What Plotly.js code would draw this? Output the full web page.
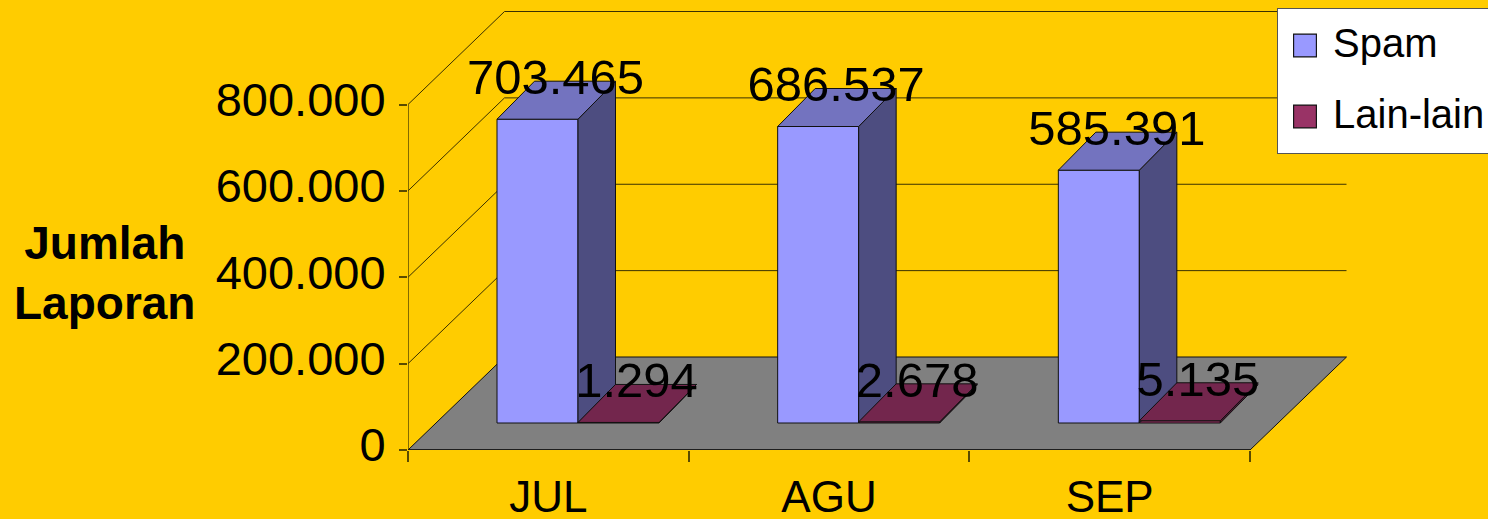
<!DOCTYPE html>
<html>
<head>
<meta charset="utf-8">
<script src="https://cdn.plot.ly/plotly-3.0.1.min.js"></script>
<style>html,body{margin:0;padding:0;background:#FFCC00;overflow:hidden}</style>
</head>
<body>
<div id="chart" style="width:1488px;height:519px"></div>
<script>
const categories = ["JUL", "AGU", "SEP"];
const spamValues = [703465, 686537, 585391];
const otherValues = [1294, 2678, 5135];
const seriesNames = ["Spam", "Lain-lain"];
const axisValues = [0, 200000, 400000, 600000, 800000];

const W = 1488, H = 519, mL = 408, mR = 140, mB = 69;
const plotW = W - mL - mR, plotH = H - mB;
const xUnit = 280.67;            // pixels per category
const yUnit = 345.5 / 800000;    // pixels per value
const ux = p => p / xUnit, uy = p => p / yUnit;
const fmt = v => String(v).replace(/\B(?=(\d{3})+$)/g, ".");

// oblique 3D offsets
const wallDX = ux(96.5), wallDY = uy(93);
const barDX = ux(37.5), barDY = uy(38);
const barW = ux(81), barBase = uy(27);
const spamLeft = ux(89), otherLeft = ux(170);
const FONT = "Liberation Sans, Arial, sans-serif";

function faces(values, left) {
  const side = {x: [], y: []}, top = {x: [], y: []};
  values.forEach((v, i) => {
    const x0 = i + left, x1 = x0 + barW, y0 = barBase, y1 = barBase + v;
    side.x.push(x1, x1 + barDX, x1 + barDX, x1, x1, null);
    side.y.push(y0, y0 + barDY, y1 + barDY, y1, y0, null);
    top.x.push(x0, x1, x1 + barDX, x0 + barDX, x0, null);
    top.y.push(y1, y1, y1 + barDY, y1 + barDY, y1, null);
  });
  return {side, top};
}
function faceTrace(p, color) {
  return {type: "scatter", mode: "lines", x: p.x, y: p.y, fill: "toself", fillcolor: color,
    line: {color: "#111", width: 1}, showlegend: false, hoverinfo: "skip"};
}
function barTrace(name, values, left, color) {
  return {type: "bar", name, legendgroup: name, x: values.map((_, i) => i + left + barW / 2),
    y: values, base: values.map(() => barBase), width: barW,
    marker: {color, line: {color: "#111", width: 1}}, hoverinfo: "skip"};
}
function labelTrace(values, left) {
  return {type: "scatter", mode: "text", x: values.map((_, i) => i + left + barW / 2 + ux(18)),
    y: values.map(v => barBase + v + uy(13)), text: values.map(fmt), textposition: "top center",
    textfont: {family: FONT, size: 49, color: "#000"}, cliponaxis: false, showlegend: false, hoverinfo: "skip"};
}

const fs = faces(spamValues, spamLeft), fo = faces(otherValues, otherLeft);
const traces = [
  barTrace(seriesNames[0], spamValues, spamLeft, "#9999FF"),
  barTrace(seriesNames[1], otherValues, otherLeft, "#993366"),
  faceTrace(fs.side, "#4D4D80"), faceTrace(fs.top, "#7373BF"),
  faceTrace(fo.side, "#4D1933"), faceTrace(fo.top, "#73264D"),
  labelTrace(spamValues, spamLeft), labelTrace(otherValues, otherLeft)
];

const n = categories.length, gridLine = {color: "#3a3000", width: 1};
const shapes = [{type: "path", layer: "below", xref: "x", yref: "y",
  path: `M0,0L${n},0L${n + wallDX},${wallDY}L${wallDX},${wallDY}Z`,
  fillcolor: "#808080", line: {color: "#111", width: 1}}];
axisValues.forEach(v => {
  if (v > 0) {
    shapes.push({type: "line", layer: "below", xref: "x", yref: "y", x0: 0, y0: v, x1: wallDX, y1: v + wallDY, line: gridLine});
    shapes.push({type: "line", layer: "below", xref: "x", yref: "y", x0: wallDX, y0: v + wallDY, x1: n + wallDX, y1: v + wallDY, line: gridLine});
  }
});
shapes.push({type: "line", layer: "below", xref: "x", yref: "y", x0: 0, y0: 0, x1: 0, y1: axisValues[axisValues.length - 1], line: {color: "#5a4a00", width: 1.5}});
shapes.push({type: "line", layer: "below", xref: "x", yref: "y", x0: 0, y0: 0, x1: n, y1: 0, line: {color: "#111", width: 1.5}});

const layout = {
  width: W, height: H, paper_bgcolor: "#FFCC00", plot_bgcolor: "rgba(0,0,0,0)",
  margin: {l: mL, r: mR, t: 0, b: mB, pad: 0, autoexpand: false},
  barmode: "overlay", showlegend: true, shapes,
  font: {family: FONT, color: "#000"},
  xaxis: {range: [0, plotW / xUnit], showgrid: false, zeroline: false, showline: false,
    tickmode: "array", tickvals: categories.map((_, i) => i + 0.5), ticktext: categories,
    ticks: "", tickfont: {family: FONT, size: 44}, ticklabelstandoff: 17,
    minor: {tickmode: "array", tickvals: [0, 1, 2, 3], ticks: "outside", ticklen: 11, tickcolor: "#5a4a00", tickwidth: 1.5, showgrid: false}},
  yaxis: {range: [0, plotH / yUnit], showgrid: false, zeroline: false, showline: false,
    tickmode: "array", tickvals: axisValues, ticktext: axisValues.map(fmt),
    ticks: "outside", ticklen: 8, tickcolor: "#5a4a00", tickwidth: 1.5,
    tickfont: {family: FONT, size: 47}, ticklabelstandoff: 4, ticklabelshift: -5},
  legend: {x: (1277 - mL) / plotW, xanchor: "left", y: (plotH - 8) / plotH, yanchor: "top",
    bgcolor: "#FFFFFF", bordercolor: "#555", borderwidth: 1, itemwidth: 45, traceorder: "grouped",
    tracegroupgap: 16, font: {family: FONT, size: 40, color: "#000"}, itemclick: false, itemdoubleclick: false},
  annotations: [{xref: "paper", yref: "paper", x: (104 - mL) / plotW, y: (plotH - 273) / plotH,
    xanchor: "center", yanchor: "middle", showarrow: false, align: "center",
    text: "<b>Jumlah<br>Laporan</b>", font: {family: FONT, size: 46, color: "#000"}}]
};

Plotly.newPlot("chart", traces, layout, {displayModeBar: false, responsive: false}).then(() => {
  document.querySelectorAll(".legend .legendpoints path").forEach(p => {
    const prev = p.getAttribute("transform") || "";
    p.setAttribute("transform", prev + " translate(-0.5,4) scale(1.9)");
    p.style.strokeWidth = "0.6px";
  });
  const bg = document.querySelector(".legend .bg");
  if (bg) bg.setAttribute("height", "145");
});
</script>
</body>
</html>
